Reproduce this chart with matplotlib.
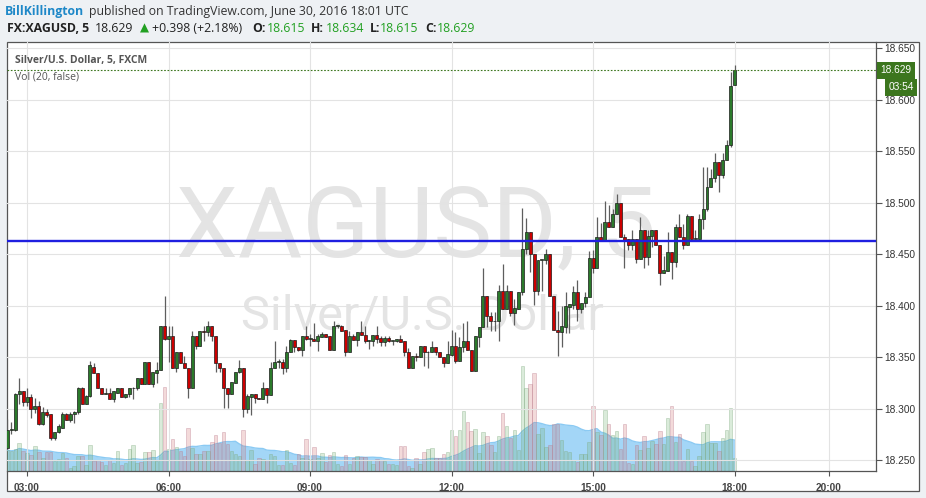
import numpy as np
import pandas as pd
import matplotlib
matplotlib.use("Agg")
import matplotlib.pyplot as plt
from matplotlib.patches import Rectangle

# XAGUSD 5-minute candles, 02:35 -> 18:00 UTC
opens = [18.262, 18.280, 18.280, 18.315, 18.317, 18.307, 18.312, 18.300, 18.303, 18.285,
         18.297, 18.295, 18.272, 18.278, 18.282, 18.295, 18.289, 18.295, 18.297, 18.320,
         18.305, 18.313, 18.341, 18.335, 18.320, 18.315, 18.316, 18.310, 18.316, 18.320,
         18.312, 18.315, 18.320, 18.320, 18.330, 18.324, 18.346, 18.324, 18.335, 18.338,
         18.381, 18.368, 18.371, 18.340, 18.355, 18.345, 18.340, 18.320, 18.371, 18.361,
         18.376, 18.375, 18.381, 18.371, 18.345, 18.340, 18.320, 18.315, 18.325, 18.336,
         18.340, 18.300, 18.312, 18.315, 18.311, 18.310, 18.320, 18.314, 18.340, 18.346,
         18.346, 18.340, 18.355, 18.367, 18.360, 18.357, 18.371, 18.368, 18.368, 18.366,
         18.370, 18.373, 18.371, 18.357, 18.381, 18.381, 18.377, 18.355, 18.371, 18.367,
         18.375, 18.372, 18.366, 18.366, 18.372, 18.369, 18.365, 18.369, 18.366, 18.366,
         18.368, 18.366, 18.355, 18.340, 18.351, 18.350, 18.361, 18.355, 18.355, 18.360,
         18.355, 18.350, 18.345, 18.352, 18.361, 18.347, 18.360, 18.366, 18.357, 18.337,
         18.370, 18.380, 18.410, 18.390, 18.385, 18.385, 18.415, 18.397, 18.415, 18.393,
         18.397, 18.414, 18.455, 18.472, 18.450, 18.415, 18.445, 18.445, 18.450, 18.410,
         18.377, 18.375, 18.380, 18.399, 18.401, 18.414, 18.397, 18.403, 18.409, 18.447,
         18.437, 18.467, 18.463, 18.482, 18.477, 18.489, 18.500, 18.467, 18.465, 18.459,
         18.465, 18.446, 18.474, 18.448, 18.468, 18.474, 18.459, 18.432, 18.434, 18.452,
         18.443, 18.477, 18.467, 18.459, 18.487, 18.465, 18.465, 18.484, 18.494, 18.516,
         18.524, 18.540, 18.527, 18.542, 18.556, 18.615]
highs = [18.290, 18.287, 18.316, 18.330, 18.317, 18.320, 18.315, 18.311, 18.308, 18.302,
         18.300, 18.295, 18.278, 18.285, 18.297, 18.296, 18.297, 18.298, 18.321, 18.321,
         18.314, 18.347, 18.345, 18.335, 18.320, 18.320, 18.320, 18.317, 18.320, 18.320,
         18.315, 18.320, 18.321, 18.330, 18.330, 18.346, 18.346, 18.336, 18.346, 18.381,
         18.410, 18.381, 18.381, 18.355, 18.355, 18.351, 18.340, 18.376, 18.371, 18.376,
         18.381, 18.385, 18.381, 18.371, 18.345, 18.340, 18.320, 18.326, 18.336, 18.348,
         18.340, 18.315, 18.315, 18.315, 18.311, 18.326, 18.320, 18.346, 18.366, 18.349,
         18.349, 18.361, 18.368, 18.367, 18.360, 18.371, 18.381, 18.373, 18.383, 18.373,
         18.375, 18.373, 18.371, 18.385, 18.381, 18.382, 18.377, 18.376, 18.373, 18.375,
         18.385, 18.381, 18.367, 18.372, 18.381, 18.371, 18.371, 18.371, 18.366, 18.368,
         18.372, 18.366, 18.359, 18.351, 18.354, 18.361, 18.361, 18.356, 18.366, 18.360,
         18.355, 18.350, 18.366, 18.377, 18.375, 18.370, 18.383, 18.385, 18.357, 18.371,
         18.380, 18.437, 18.410, 18.394, 18.394, 18.420, 18.441, 18.420, 18.415, 18.407,
         18.414, 18.495, 18.485, 18.472, 18.450, 18.445, 18.445, 18.455, 18.450, 18.410,
         18.395, 18.400, 18.414, 18.402, 18.419, 18.425, 18.403, 18.414, 18.453, 18.454,
         18.486, 18.481, 18.502, 18.498, 18.494, 18.509, 18.500, 18.470, 18.465, 18.474,
         18.465, 18.486, 18.474, 18.474, 18.474, 18.474, 18.459, 18.449, 18.472, 18.452,
         18.480, 18.489, 18.480, 18.489, 18.487, 18.474, 18.489, 18.535, 18.535, 18.533,
         18.549, 18.540, 18.549, 18.561, 18.627, 18.634]
lows = [18.261, 18.276, 18.279, 18.305, 18.303, 18.303, 18.291, 18.296, 18.284, 18.284,
        18.292, 18.270, 18.270, 18.277, 18.282, 18.289, 18.287, 18.286, 18.295, 18.305,
        18.305, 18.312, 18.335, 18.320, 18.315, 18.315, 18.310, 18.307, 18.316, 18.312,
        18.311, 18.312, 18.310, 18.318, 18.324, 18.324, 18.324, 18.321, 18.325, 18.338,
        18.367, 18.346, 18.340, 18.336, 18.345, 18.340, 18.311, 18.320, 18.358, 18.361,
        18.366, 18.371, 18.366, 18.336, 18.336, 18.301, 18.301, 18.315, 18.325, 18.335,
        18.292, 18.296, 18.294, 18.306, 18.310, 18.310, 18.306, 18.314, 18.340, 18.340,
        18.334, 18.336, 18.355, 18.355, 18.356, 18.351, 18.367, 18.361, 18.366, 18.356,
        18.370, 18.370, 18.357, 18.357, 18.379, 18.376, 18.351, 18.355, 18.367, 18.361,
        18.372, 18.364, 18.358, 18.361, 18.364, 18.361, 18.361, 18.365, 18.362, 18.365,
        18.365, 18.351, 18.340, 18.340, 18.347, 18.350, 18.342, 18.340, 18.355, 18.352,
        18.350, 18.341, 18.345, 18.351, 18.345, 18.347, 18.355, 18.357, 18.337, 18.337,
        18.360, 18.380, 18.380, 18.376, 18.376, 18.366, 18.397, 18.397, 18.390, 18.382,
        18.397, 18.411, 18.450, 18.433, 18.401, 18.411, 18.415, 18.441, 18.410, 18.377,
        18.351, 18.360, 18.374, 18.374, 18.397, 18.385, 18.393, 18.399, 18.409, 18.432,
        18.437, 18.463, 18.463, 18.477, 18.477, 18.489, 18.467, 18.437, 18.454, 18.454,
        18.442, 18.446, 18.437, 18.440, 18.457, 18.459, 18.420, 18.432, 18.434, 18.426,
        18.438, 18.467, 18.455, 18.459, 18.465, 18.465, 18.465, 18.475, 18.492, 18.516,
        18.520, 18.511, 18.524, 18.542, 18.554, 18.615]
closes = [18.280, 18.281, 18.315, 18.317, 18.307, 18.312, 18.300, 18.303, 18.285, 18.297,
          18.294, 18.272, 18.278, 18.283, 18.295, 18.289, 18.295, 18.297, 18.320, 18.305,
          18.313, 18.343, 18.335, 18.320, 18.315, 18.316, 18.310, 18.317, 18.320, 18.312,
          18.315, 18.320, 18.320, 18.330, 18.324, 18.346, 18.324, 18.336, 18.338, 18.381,
          18.368, 18.371, 18.340, 18.355, 18.345, 18.340, 18.320, 18.371, 18.361, 18.376,
          18.375, 18.381, 18.371, 18.345, 18.340, 18.320, 18.315, 18.326, 18.336, 18.340,
          18.300, 18.313, 18.315, 18.311, 18.310, 18.320, 18.314, 18.340, 18.346, 18.346,
          18.340, 18.355, 18.367, 18.360, 18.357, 18.371, 18.368, 18.368, 18.366, 18.371,
          18.373, 18.370, 18.357, 18.381, 18.381, 18.376, 18.355, 18.371, 18.367, 18.375,
          18.372, 18.366, 18.366, 18.372, 18.368, 18.365, 18.369, 18.366, 18.366, 18.368,
          18.365, 18.355, 18.340, 18.351, 18.350, 18.361, 18.355, 18.355, 18.360, 18.355,
          18.350, 18.345, 18.353, 18.361, 18.347, 18.360, 18.366, 18.357, 18.337, 18.371,
          18.380, 18.410, 18.390, 18.385, 18.385, 18.415, 18.397, 18.415, 18.393, 18.398,
          18.414, 18.455, 18.472, 18.450, 18.415, 18.445, 18.445, 18.450, 18.410, 18.377,
          18.375, 18.381, 18.400, 18.402, 18.414, 18.397, 18.403, 18.409, 18.447, 18.437,
          18.467, 18.463, 18.482, 18.477, 18.489, 18.500, 18.467, 18.464, 18.459, 18.465,
          18.446, 18.474, 18.448, 18.468, 18.474, 18.459, 18.432, 18.435, 18.452, 18.443,
          18.477, 18.467, 18.459, 18.487, 18.465, 18.465, 18.484, 18.494, 18.516, 18.524,
          18.540, 18.527, 18.542, 18.556, 18.614, 18.629]
volumes = [21, 20, 22, 28, 20, 18, 16, 25, 19, 13, 19, 19, 10, 12, 18, 13, 3, 5, 15, 15,
           6, 26, 10, 11, 9, 6, 11, 8, 20, 6, 8, 22, 26, 8, 9, 19, 19, 21, 10, 68,
           84, 22, 32, 24, 20, 15, 43, 23, 17, 17, 20, 20, 29, 36, 28, 39, 27, 20, 17, 15,
           41, 11, 21, 7, 13, 12, 11, 17, 15, 6, 6, 21, 8, 6, 17, 13, 32, 12, 24, 13,
           18, 9, 16, 19, 7, 5, 16, 7, 13, 15, 14, 14, 11, 7, 12, 11, 10, 7, 7, 6,
           25, 25, 5, 3, 13, 7, 19, 22, 23, 13, 13, 17, 19, 41, 35, 41, 60, 49, 40, 42,
           18, 39, 35, 26, 19, 35, 58, 45, 33, 41, 21, 105, 83, 87, 98, 37, 43, 24, 26, 47,
           47, 31, 20, 19, 11, 9, 17, 17, 29, 65, 39, 36, 61, 47, 36, 40, 22, 47, 8, 7,
           26, 21, 35, 23, 30, 27, 40, 27, 53, 65, 29, 37, 10, 22, 10, 5, 15, 39, 47, 28,
           28, 20, 33, 41, 63, 13]

time_labels = ["03:00", "06:00", "09:00", "12:00", "15:00", "18:00", "20:00"]
time_label_bars = [5, 41, 77, 113, 149, 185, 209]
price_ticks = [18.25, 18.30, 18.35, 18.40, 18.45, 18.50, 18.55, 18.60, 18.65]
support_level = 18.4635
last_price = 18.629

W, H = 926, 498
fig = plt.figure(figsize=(W / 100, H / 100), dpi=100)
fig.patch.set_facecolor("#eef1f4")


def fx(px):
    return px / W


def fy(py):
    return 1 - py / H


# white chart panel (plot + scales)
fig.patches.append(Rectangle((fx(6.7), fy(491)), fx(919) - fx(6.7), fy(41.7) - fy(491),
                             transform=fig.transFigure, facecolor="white",
                             edgecolor="#555555", lw=0.9, zorder=0))

ax = fig.add_axes([fx(6.7), fy(471.3), fx(876) - fx(6.7), fy(41.7) - fy(471.3)])
axv = ax.twinx()
ax.set_zorder(2)
axv.set_zorder(1)
ax.patch.set_visible(False)

o = np.array(opens)
h = np.array(highs)
l = np.array(lows)
c = np.array(closes)
v = np.array(volumes)
x = np.arange(len(o))
up = c >= o

# volume + 20 period average
ma = pd.Series(v).rolling(20, min_periods=1).mean()
axv.fill_between(x, 0, ma, color="#a3d6f7", lw=0, zorder=1)
axv.plot(x, ma, color="#8bcaf3", lw=1.0, zorder=1)
vface = np.where(up[:, None], [[0.45, 0.70, 0.45, 0.26]], [[0.82, 0.45, 0.45, 0.26]])
vedge = np.where(up[:, None], [[0.50, 0.66, 0.50, 0.40]], [[0.72, 0.48, 0.55, 0.40]])
axv.bar(x, v, width=0.88, color=vface, edgecolor=vedge, linewidth=0.6, zorder=2)
axv.set_ylim(0, 430)
axv.axis("off")

# watermark
ax.text(104.0, 18.4745, "XAGUSD, 5", fontsize=71, family="Roboto", color="#e4e4e4",
        ha="center", va="center", zorder=0)
ax.text(105.6, 18.3895, "Silver/U.S. Dollar", fontsize=35, family="Roboto",
        color="#e4e4e4", ha="center", va="center", zorder=0)

# candles
ax.vlines(x, l, h, color="#5e5e5e", lw=0.9, zorder=3)
body_lo = np.minimum(o, c)
body_h = np.maximum(np.abs(c - o), 0.0006)
ax.bar(x, body_h, bottom=body_lo, width=0.76,
       color=np.where(up, "#2b7a2b", "#cc0000"), edgecolor="#1c1c1c",
       linewidth=0.5, zorder=4)

ax.axhline(support_level, color="#1f1fe0", lw=1.7, zorder=5)
ax.axhline(last_price, color="#3c761e", lw=0.8, ls=(0, (1.5, 1.5)), zorder=5)

ax.set_xlim(-0.18, 221.0)
ax.set_ylim(18.2395, 18.6566)
ax.set_yticks(price_ticks)
ax.set_yticklabels(["%.3f" % p for p in price_ticks])
ax.yaxis.tick_right()
ax.set_xticks(time_label_bars)
ax.set_xticklabels(time_labels)
ax.grid(True, color="#e3e3e3", lw=0.8)
ax.set_axisbelow(True)
ax.tick_params(axis="y", direction="out", length=4, width=0.8, color="#555555",
               labelsize=7.3, labelcolor="#333333", pad=2)
ax.tick_params(axis="x", direction="out", length=3.5, width=0.8, color="#555555",
               labelsize=7.3, labelcolor="#444444", pad=5)
for lab in ax.get_yticklabels() + ax.get_xticklabels():
    lab.set_family("Liberation Sans")
for lab in ax.get_xticklabels():
    lab.set_fontweight("bold")
for side in ["top", "left"]:
    ax.spines[side].set_visible(False)
ax.spines["bottom"].set_color("#555555")
ax.spines["right"].set_color("#555555")
ax.spines["bottom"].set_linewidth(0.9)
ax.spines["right"].set_linewidth(0.9)

# last price tags on the scale
ax.annotate("18.629", xy=(1.0, last_price), xycoords=("axes fraction", "data"),
            xytext=(3, 0), textcoords="offset points", ha="left", va="center",
            fontsize=7.3, family="Liberation Sans", color="white",
            bbox=dict(boxstyle="square,pad=0.35", fc="#3c761e", ec="none"), zorder=6)
ax.annotate("03:54", xy=(1.0, last_price), xycoords=("axes fraction", "data"),
            xytext=(9, -12.5), textcoords="offset points", ha="left", va="center",
            fontsize=7.3, family="Liberation Sans", color="white",
            bbox=dict(boxstyle="square,pad=0.35", fc="#3c761e", ec="none"), zorder=6)

# chart labels inside the pane
fig.text(fx(15), fy(60), "Silver/U.S. Dollar, 5, FXCM", fontsize=7.5, family="Open Sans",
         fontweight="bold", color="#555555", va="center")
fig.text(fx(15), fy(77), "Vol (20, false)", fontsize=7.5, family="Open Sans",
         color="#555555", va="center")

# header
hdr = dict(fontsize=8.8, family="Open Sans", va="center")
fig.text(fx(5), fy(12), "BillKillington", color="#1e88c8", fontweight="bold", **hdr)
fig.text(fx(89), fy(12), "published on TradingView.com, June 30, 2016 18:01 UTC",
         color="#333333", **hdr)
segs = [(7, "FX:XAGUSD, 5", "#222222", "bold"), (95, "18.629", "#222222", "normal"),
        (152, "+0.398 (+2.18%)", "#222222", "normal"),
        (252, "O:", "#222222", "bold"), (267, "18.615", "#22a022", "normal"),
        (311, "H:", "#222222", "bold"), (326, "18.634", "#22a022", "normal"),
        (370, "L:", "#222222", "bold"), (380, "18.615", "#22a022", "normal"),
        (425, "C:", "#222222", "bold"), (437, "18.629", "#22a022", "normal")]
for px, txt, col, wt in segs:
    fig.text(fx(px), fy(28), txt, color=col, fontweight=wt, **hdr)
fig.text(fx(144), fy(28.5), "\u25B2", color="#22a022", fontsize=8.5, ha="center",
         va="center", family="DejaVu Sans")

fig.savefig("out.png", dpi=100, facecolor=fig.get_facecolor())
